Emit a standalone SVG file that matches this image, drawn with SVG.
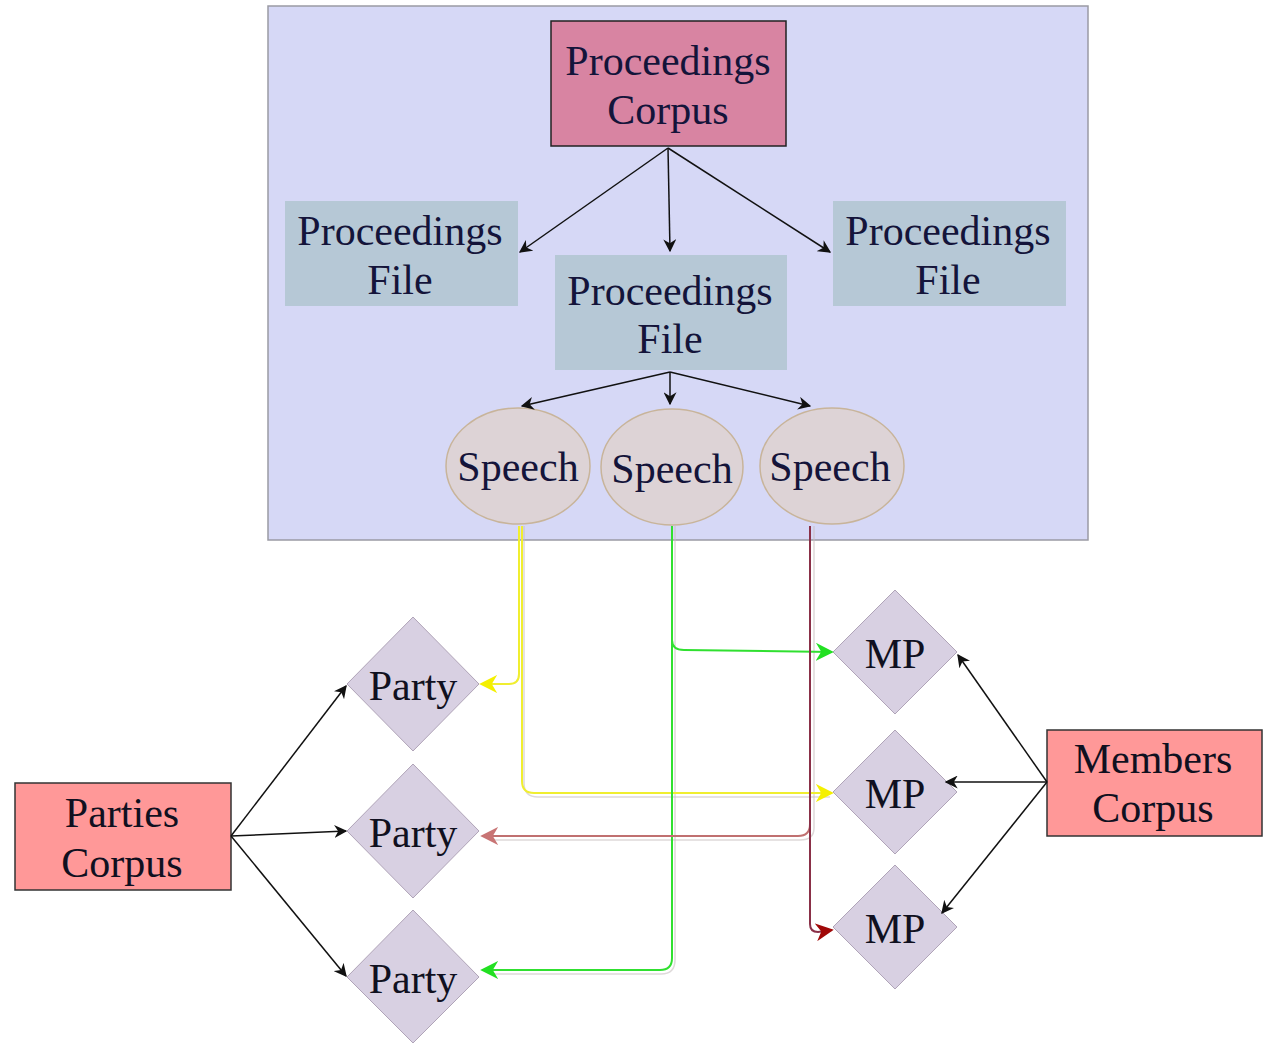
<svg xmlns="http://www.w3.org/2000/svg" width="1272" height="1043" viewBox="0 0 1272 1043">
<style>
text{font-family:"Liberation Serif","Times New Roman",serif;font-size:42px;text-anchor:middle;fill:#101020}
.top text{fill:#14143a}
.file{fill:#b6c8d6}
.speech{fill:#ddd3d6;stroke:#c8b49a;stroke-width:1.5}
.dia{fill:#d8d0e2;stroke:#b0a4b8;stroke-width:1}
.corp{fill:#ff9898;stroke:#333;stroke-width:1.5}
.blk{fill:none;stroke:#111;stroke-width:1.5}
.sh{fill:none;stroke:#c8c0c0;stroke-width:1.5;stroke-opacity:0.6}
</style>
<defs>
<marker id="ab" viewBox="0 0 10 10" refX="9" refY="5" markerWidth="13" markerHeight="13" markerUnits="userSpaceOnUse" orient="auto"><path d="M0,0 L10,5 L0,10 L3,5 Z" fill="#111"/></marker>
<marker id="ay" viewBox="0 0 10 10" refX="9" refY="5" markerWidth="18" markerHeight="18" markerUnits="userSpaceOnUse" orient="auto"><path d="M0,0 L10,5 L0,10 L3,5 Z" fill="#f4f000"/></marker>
<marker id="ag" viewBox="0 0 10 10" refX="9" refY="5" markerWidth="18" markerHeight="18" markerUnits="userSpaceOnUse" orient="auto"><path d="M0,0 L10,5 L0,10 L3,5 Z" fill="#22e022"/></marker>
<marker id="ap" viewBox="0 0 10 10" refX="9" refY="5" markerWidth="18" markerHeight="18" markerUnits="userSpaceOnUse" orient="auto"><path d="M0,0 L10,5 L0,10 L3,5 Z" fill="#c87474"/></marker>
<marker id="ar" viewBox="0 0 10 10" refX="9" refY="5" markerWidth="18" markerHeight="18" markerUnits="userSpaceOnUse" orient="auto"><path d="M0,0 L10,5 L0,10 L3,5 Z" fill="#a00808"/></marker>
</defs>
<rect width="1272" height="1043" fill="#fff"/>
<g id="container"><rect x="268" y="6" width="820" height="534" fill="#d6d8f6" stroke="#9a9aa4" stroke-width="1.5"/></g>
<g class="top">
<g id="proceedings-corpus"><rect x="551" y="21" width="235" height="125" fill="#d884a2" stroke="#222" stroke-width="1.5"/><text x="668" y="75">Proceedings</text><text x="668" y="124">Corpus</text></g>
<g id="file-left"><rect class="file" x="285" y="201" width="233" height="105"/><text x="400" y="245">Proceedings</text><text x="400" y="294">File</text></g>
<g id="file-center"><rect class="file" x="555" y="255" width="232" height="115"/><text x="670" y="305">Proceedings</text><text x="670" y="353">File</text></g>
<g id="file-right"><rect class="file" x="833" y="201" width="233" height="105"/><text x="948" y="245">Proceedings</text><text x="948" y="294">File</text></g>
<g id="speech-1"><ellipse class="speech" cx="518" cy="466" rx="72" ry="58"/><text x="518" y="481">Speech</text></g>
<g id="speech-2"><ellipse class="speech" cx="672" cy="467" rx="71" ry="58"/><text x="672" y="483">Speech</text></g>
<g id="speech-3"><ellipse class="speech" cx="832" cy="466" rx="72" ry="58"/><text x="830" y="481">Speech</text></g>
</g>
<g id="party-1"><polygon class="dia" points="413,617 479,684 413,751 347,684"/><text x="413" y="700">Party</text></g>
<g id="party-2"><polygon class="dia" points="413,764 479,831 413,898 347,831"/><text x="413" y="847">Party</text></g>
<g id="party-3"><polygon class="dia" points="413,910 479,977 413,1043 347,977"/><text x="413" y="993">Party</text></g>
<g id="mp-1"><polygon class="dia" points="895,590 957,652 895,714 833,652"/><text x="895" y="668">MP</text></g>
<g id="mp-2"><polygon class="dia" points="895,730 957,792 895,854 833,792"/><text x="895" y="808">MP</text></g>
<g id="mp-3"><polygon class="dia" points="895,865 957,927 895,989 833,927"/><text x="895" y="943">MP</text></g>
<g id="parties-corpus"><rect class="corp" x="15" y="783" width="216" height="107"/><text x="122" y="827">Parties</text><text x="122" y="877">Corpus</text></g>
<g id="members-corpus"><rect class="corp" x="1047" y="730" width="215" height="106"/><text x="1153" y="773">Members</text><text x="1153" y="822">Corpus</text></g>
<g id="connectors">
<path class="blk" d="M668,148 L520,252" marker-end="url(#ab)"/>
<path class="blk" d="M668,148 L670,251" marker-end="url(#ab)"/>
<path class="blk" d="M668,148 L830,252" marker-end="url(#ab)"/>
<path class="blk" d="M670,372 L522,406" marker-end="url(#ab)"/>
<path class="blk" d="M670,372 L670,404" marker-end="url(#ab)"/>
<path class="blk" d="M670,372 L810,406" marker-end="url(#ab)"/>
<path class="blk" d="M231,836 L346,686" marker-end="url(#ab)"/>
<path class="blk" d="M231,836 L346,831" marker-end="url(#ab)"/>
<path class="blk" d="M231,836 L346,976" marker-end="url(#ab)"/>
<path class="blk" d="M1047,782 L958,655" marker-end="url(#ab)"/>
<path class="blk" d="M1047,782 L946,782" marker-end="url(#ab)"/>
<path class="blk" d="M1047,782 L942,913" marker-end="url(#ab)"/>
<path class="sh" d="M524,526 V783 Q524,797 538,797 H830"/>
<path class="sh" d="M675,526 V960 Q675,974 661,974 H490"/>
<path class="sh" d="M814,526 V828 Q814,840 800,840 H490"/>
<path fill="none" stroke="#f0ee30" stroke-width="2" d="M519,526 V674 Q519,684 509,684 H481" marker-end="url(#ay)"/>
<path fill="none" stroke="#f0ee30" stroke-width="2" d="M522,526 V781 Q522,793 534,793 H832" marker-end="url(#ay)"/>
<path fill="none" stroke="#30e030" stroke-width="2" d="M672,526 V640 Q672,650 684,650 L832,652" marker-end="url(#ag)"/>
<path fill="none" stroke="#30e030" stroke-width="2" d="M672,526 V958 Q672,970 660,970 H482" marker-end="url(#ag)"/>
<path fill="none" stroke="#c07070" stroke-width="2" d="M810,526 V824 Q810,836 798,836 H482" marker-end="url(#ap)"/>
<path fill="none" stroke="#8a3048" stroke-width="2" d="M810,526 V924 Q810,932 818,932 L832,930" marker-end="url(#ar)"/>
</g>
</svg>
